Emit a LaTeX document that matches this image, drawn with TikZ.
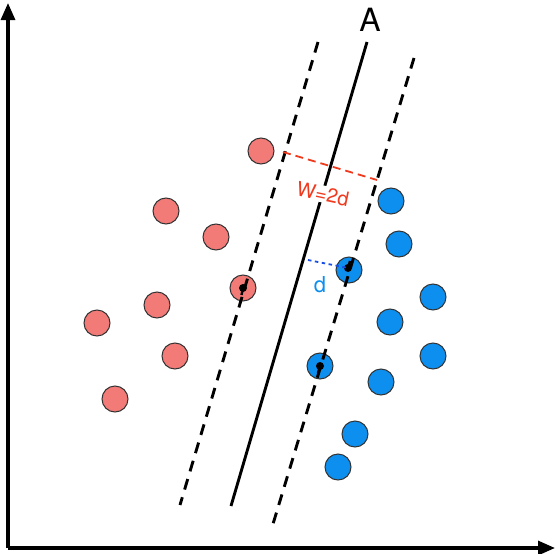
\documentclass[tikz,border=0pt]{standalone}
\usepackage{fontspec}
\setmainfont{TeX Gyre Heros}
\usetikzlibrary{arrows.meta}
\definecolor{redpt}{HTML}{F27B78}
\definecolor{bluept}{HTML}{0D8FEF}
\definecolor{redline}{HTML}{F03A1E}
\definecolor{blueline}{HTML}{1A4FE6}
\tikzset{
  pt/.style={circle,draw=black!80,line width=1pt,minimum size=26pt,inner sep=0pt},
  rpt/.style={pt,fill=redpt},
  bpt/.style={pt,fill=bluept},
  axis/.style={line width=3.2pt,-{Triangle[length=17pt,width=14pt]}},
  margin/.style={line width=2.9pt,dash pattern=on 11pt off 8pt},
  hyper/.style={line width=2.9pt},
  svdot/.style={circle,fill=black,inner sep=0pt,minimum size=8pt},
}
\begin{document}
\begin{tikzpicture}[x=1pt,y=-1pt]
\useasboundingbox (0,0) rectangle (557,554);
% axes
\coordinate (O) at (8,548);
\coordinate (Ytop) at (8,3);
\coordinate (Xend) at (555,548);
\draw[axis] (O) -- (Ytop);
\draw[axis] (O) -- (Xend);
% points
\node[rpt] (r1) at (261,151) {};
\node[rpt] (r2) at (166,211) {};
\node[rpt] (r3) at (216,237) {};
\node[rpt] (r4) at (243,288) {};
\node[rpt] (r5) at (157,305) {};
\node[rpt] (r6) at (97,323) {};
\node[rpt] (r7) at (175,356) {};
\node[rpt] (r8) at (115,399) {};
\node[bpt] (b1) at (391,201) {};
\node[bpt] (b2) at (399,244) {};
\node[bpt] (b3) at (349,270) {};
\node[bpt] (b4) at (433,297) {};
\node[bpt] (b5) at (390,322) {};
\node[bpt] (b6) at (433,356) {};
\node[bpt] (b7) at (320,366) {};
\node[bpt] (b8) at (381,382) {};
\node[bpt] (b9) at (355,434) {};
\node[bpt] (b10) at (338,467) {};
% lines
\coordinate (Lt) at (318,42);
\coordinate (Lb) at (180,505);
\coordinate (Mt) at (367,42);
\coordinate (Mb) at (231,506);
\coordinate (Rt) at (414,58);
\coordinate (Rb) at (273,524);
\draw[margin] (Lt) -- (Lb);
\draw[hyper] (Mt) -- (Mb);
\draw[margin] (Rt) -- (Rb);
% support vector dots
\node[svdot] (s1) at (243,288) {};
\node[svdot] (s2) at (348,268) {};
\node[svdot] (s3) at (320,366) {};
\draw[line width=2.4pt] (s1.center) -- ++(-1.5,7);
\draw[line width=2.4pt] (s2.center) -- ++(2,-7);
\draw[line width=2.4pt] (s3.center) -- ++(-2,7);
% width
\coordinate (W1) at (283,152);
\coordinate (W2) at (377,180);
\draw[redline,line width=1.8pt,dash pattern=on 8pt off 5pt] (W1) -- (W2);
\node[text=redline,fill=white,inner sep=1pt,rotate=-12,font=\fontsize{20}{20}\selectfont] (wl) at (323,194) {W=2d};
\coordinate (D1) at (308,260);
\draw[blueline,line width=1.8pt,dash pattern=on 3.5pt off 3.5pt] (D1) -- (s2.center);
\node[text=bluept,font=\fontsize{22}{22}\selectfont] (dl) at (320,285) {d};
\node[font=\fontsize{32}{32}\selectfont] (A) at (370,20) {A};
\end{tikzpicture}
\end{document}
